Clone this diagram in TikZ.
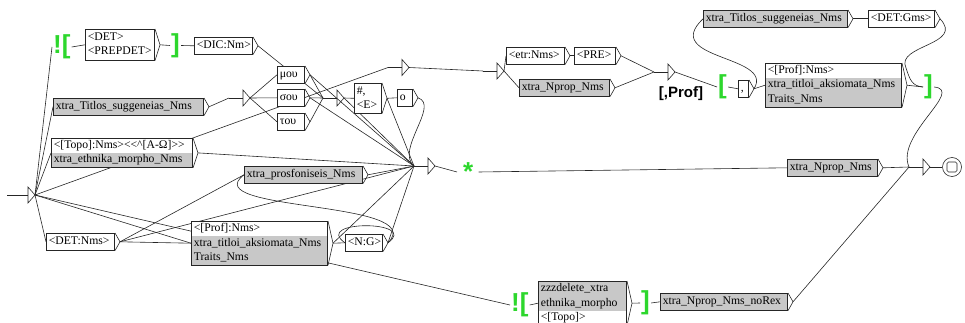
\documentclass[tikz,border=0pt]{standalone}
\usepackage{fontspec}
\setmainfont{Liberation Serif}[Ligatures=TeXOff]
\newfontfamily\sansb{Liberation Sans}[Ligatures=TeXOff]
\usetikzlibrary{shapes.multipart}
\definecolor{ugrey}{RGB}{200,200,200}
\definecolor{ugreen}{RGB}{45,215,45}
\pgfdeclarelayer{bg}
\pgfsetlayers{bg,main}
\newcommand\ufont{\fontsize{11.7}{14}\selectfont}
\newcommand\tr[2]{\draw[edge] (#1-o) -- (#2-i);}
\newcommand\etri[1]{%
  \coordinate (#1-i) at ([xshift=-14pt]#1);
  \coordinate (#1-o) at ([xshift=7pt]#1);
  \draw[edge] (#1-i) -- (#1);
  \draw[edge] (#1) ++(0,-8) -- ++(7,8) -- ++(-7,8) -- cycle;}
\tikzset{
  edge/.style={draw=black!85, line width=0.6pt},
  ubox/.style={draw=black!85, line width=0.6pt, fill=white, inner xsep=2.5pt, inner ysep=0pt,
    font=\ufont, anchor=north west, align=left, minimum height=17pt, execute at begin node=\strut},
  gbox/.style={ubox, fill=ugrey},
  mbox/.style={draw=black!85, line width=0.6pt, inner xsep=2.5pt, inner ysep=0pt, font=\ufont,
    anchor=north west, rectangle split, rectangle split parts=3, rectangle split draw splits=false},
  grn/.style={text=ugreen, font=\sansb\bfseries\fontsize{26}{26}\selectfont, inner sep=0pt, anchor=west},
}
\begin{document}
\begin{tikzpicture}[x=1pt,y=-1pt]
\useasboundingbox (0,0) rectangle (965,323);
% ---- boxes ----
\node[grn] (EXU) at (53,47) {![};
\node[ubox, inner ysep=1.5pt, text width=64.4pt] (DETPREP) at (85,29) {<DET>\\\strut<PREPDET>};
\node[grn] (RBU) at (171,45.5) {]};
\node[ubox, text width=53.4pt] (DIC) at (194,37) {<DIC:Nm>};
\node[ubox, text width=22.4pt] (MOU) at (277,66) {μου};
\node[ubox, text width=22.4pt] (SOU) at (277,89) {σου};
\node[ubox, text width=22.4pt] (TOU) at (277,113) {του};
\node[gbox, text width=145.4pt] (TitL) at (53,98) {xtra\_Titlos\_suggeneias\_Nms};
\node[mbox, rectangle split parts=2, rectangle split part fill={white,ugrey}, text width=136.4pt] (Topo) at (51,138)
  {\strut<[Topo]:Nms><<\textasciicircum[A-Ω]>>\nodepart{two}\strut xtra\_ethnika\_morpho\_Nms};
\node[ubox, inner ysep=1pt, text width=22.4pt] (HashE) at (354,83) {\#,\\\strut<E>};
\node[ubox, text width=10.4pt] (O) at (397,89) {ο};
\node[ubox, text width=53.4pt] (ETR) at (506,47) {<etr:Nms>};
\node[ubox, text width=36.4pt] (PRE) at (574,47) {<PRE>};
\node[gbox, text width=85.4pt] (NpropU) at (519,79) {xtra\_Nprop\_Nms};
\node[ubox, text width=5.4pt] (COMMA) at (738,80) {,};
\node[mbox, rectangle split part fill={white,ugrey,ugrey}, text width=131.4pt] (ProfU) at (765,63)
  {\strut<[Prof]:Nms>\nodepart{two}\strut xtra\_titloi\_aksiomata\_Nms\nodepart{three}\strut Traits\_Nms};
\node[gbox, text width=139.4pt] (TitT) at (703,10) {xtra\_Titlos\_suggeneias\_Nms};
\node[ubox, text width=61.4pt] (DETG) at (868,10) {<DET:Gms>};
\node[grn] (LB2) at (718,87) {[};
\node[grn] (RB2) at (924,87) {]};
\node[font=\sansb\bfseries\fontsize{15}{15}\selectfont, inner sep=0pt] (LBL) at (681,94) {[,Prof]};
\node[gbox, text width=85.4pt] (NpropL) at (787,159) {xtra\_Nprop\_Nms};
\node[grn] (STAR) at (463,172) {*};
\node[ubox, text width=63.4pt] (DETN) at (46,233) {<DET:Nms>};
\node[gbox, text width=113.4pt] (prosf) at (244,166) {xtra\_prosfoniseis\_Nms};
\node[mbox, rectangle split part fill={white,ugrey,ugrey}, text width=131.4pt] (ProfL) at (191,221)
  {\strut<[Prof]:Nms>\nodepart{two}\strut xtra\_titloi\_aksiomata\_Nms\nodepart{three}\strut Traits\_Nms};
\node[ubox, text width=32.4pt] (NG) at (345,234) {<N:G>};
\node[grn] (EXL) at (511,305) {![};
\node[mbox, rectangle split part fill={ugrey,ugrey,white}, text width=83.4pt] (ZZZ) at (538,281)
  {\strut zzzdelete\_xtra\nodepart{two}\strut ethnika\_morpho\nodepart{three}\strut<[Topo]>};
\node[grn] (RBL) at (641,303) {]};
\node[gbox, text width=122.4pt] (NOREX) at (660,293) {xtra\_Nprop\_Nms\_noRex};
\node[draw=black!85, line width=0.6pt, circle, minimum size=19pt, inner sep=0pt] (F) at (952,167) {};
\draw[edge, rounded corners=1.5pt] ([xshift=-5pt,yshift=-5pt]F.center) rectangle ([xshift=5pt,yshift=5pt]F.center);
\coordinate (F-i) at (F.west);
% ---- box tips and ports ----
\foreach \n in {DETPREP,DIC,MOU,SOU,TOU,TitL,Topo,HashE,O,ETR,PRE,NpropU,COMMA,ProfU,TitT,DETG,NpropL,DETN,prosf,ProfL,NG,ZZZ,NOREX}{
  \draw[edge] (\n.north east) -- ([xshift=5pt]\n.east) -- (\n.south east);
  \coordinate (\n-i) at (\n.west);
  \coordinate (\n-o) at ([xshift=5pt]\n.east);
}
\foreach \n in {EXU,RBU,LB2,RB2,EXL,RBL}{
  \coordinate (\n-i) at ([xshift=-1pt]\n.west);
  \coordinate (\n-o) at ([xshift=1pt]\n.east);
}
\coordinate (STAR-i) at ([xshift=-6pt]STAR.west);
\coordinate (STAR-o) at ([xshift=5pt]STAR.east);
% ---- empty boxes (triangles) ----
\coordinate (T2) at (243,98);   \etri{T2}
\coordinate (T1) at (337,98);   \etri{T1}
\coordinate (Ta) at (402,67.5); \etri{Ta}
\coordinate (T5) at (428,166);  \etri{T5}
\coordinate (T3) at (497,71);   \etri{T3}
\coordinate (T4) at (668,72);   \etri{T4}
\coordinate (T6) at (923,167);  \etri{T6}
% initial state
\coordinate (I0s) at (7,195);
\coordinate (I0) at (28,195);
\coordinate (I0-o) at (35,195);
\draw[edge] (I0s) -- (I0);
\draw[edge] (I0) ++(0,-8) -- ++(7,8) -- ++(-7,8) -- cycle;
% ---- connectors ----
\begin{pgfonlayer}{bg}
\tr{I0}{EXU} \tr{I0}{TitL} \tr{I0}{Topo} \tr{I0}{Ta} \tr{I0}{DETN} \tr{I0}{ProfL} \tr{I0}{EXL}
\tr{EXU}{DETPREP} \tr{DETPREP}{RBU} \tr{RBU}{DIC} \tr{DIC}{T1}
\tr{TitL}{T2} \tr{T2}{MOU} \tr{T2}{SOU} \tr{T2}{TOU}
\tr{MOU}{T1} \tr{SOU}{T1} \tr{TOU}{T1}
\tr{MOU}{T5} \tr{SOU}{T5} \tr{T1}{T5}
\tr{T1}{HashE} \tr{HashE}{O} \tr{HashE}{T5}
\draw[edge] (O-o) .. controls (440,105) and (395,150) .. (T5-i);
\tr{Topo}{T5} \tr{prosf}{T5} \tr{DETN}{prosf} \tr{DETN}{ProfL} \tr{DETN}{T5}
\tr{ProfL}{NG} \tr{ProfL}{T5} \tr{NG}{T5}
\draw[edge] (NG-o) .. controls (420,220) and (312,220) .. (NG-i);
\draw[edge] (NG-o) .. controls (430,200) and (195,212) .. (prosf-i);
\tr{T5}{STAR} \tr{STAR}{NpropL} \tr{NpropL}{T6} \tr{T6}{F}
\tr{Ta}{T3} \tr{T3}{ETR} \tr{T3}{NpropU} \tr{ETR}{PRE} \tr{PRE}{T4} \tr{NpropU}{T4}
\tr{T4}{LB2} \tr{LB2}{COMMA} \tr{COMMA}{ProfU} \tr{ProfU}{RB2} \tr{TitT}{DETG}
\draw[edge] (COMMA-o) .. controls (775,55) and (660,60) .. (TitT-i);
\draw[edge] (DETG-o) .. controls (965,45) and (895,45) .. (906,68) .. controls (910,80) and (912,86) .. (RB2-i);
\draw[edge] (RB2-o) .. controls (965,90) and (895,135) .. (T6-i);
\tr{EXL}{ZZZ} \tr{ZZZ}{RBL} \tr{RBL}{NOREX} \tr{NOREX}{T6}
\end{pgfonlayer}
\end{tikzpicture}
\end{document}
